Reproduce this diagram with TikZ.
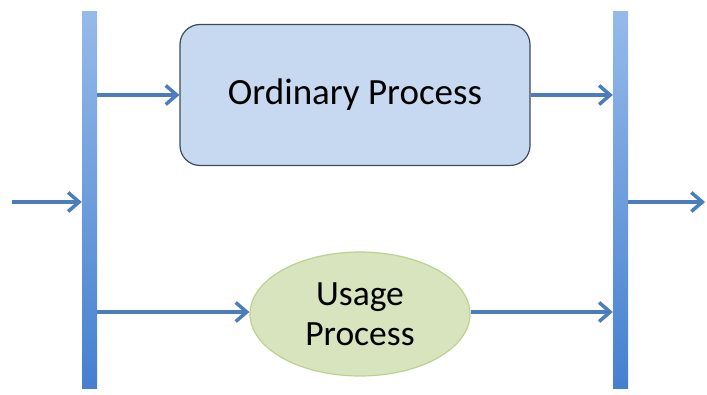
\documentclass[tikz,border=0pt]{standalone}
\usepackage{fontspec}
\setmainfont{Carlito}
\usetikzlibrary{arrows.meta,shapes.geometric}
\definecolor{arr}{HTML}{4A7EBB}
\definecolor{bartop}{HTML}{95BAEA}
\definecolor{barbot}{HTML}{4580CF}
\definecolor{boxfill}{HTML}{C6D9F1}
\definecolor{boxdraw}{HTML}{3F4A5A}
\definecolor{ellfill}{HTML}{D7E4BD}
\definecolor{elldraw}{HTML}{BDD190}
\tikzset{
  conn/.style={draw=arr, line width=3.5pt, -{Straight Barb[length=11pt,width=19pt,line width=3.5pt]}},
  bar/.style={top color=bartop, bottom color=barbot, draw=none, minimum width=15pt, minimum height=376pt, inner sep=0pt},
  procbox/.style={rectangle, rounded corners=20pt, fill=boxfill, draw=boxdraw, line width=1.2pt, minimum width=350pt, minimum height=141pt, font=\fontsize{37}{40}\selectfont},
  usebox/.style={ellipse, fill=ellfill, draw=elldraw, line width=1.2pt, minimum width=220pt, minimum height=124pt, inner sep=0pt, align=center, font=\fontsize{35.5}{40}\selectfont}
}
\begin{document}
\begin{tikzpicture}[x=1pt,y=1pt]
\useasboundingbox (0,0) rectangle (707,394);
\node[bar] (lb) at (89.5,194) {};
\node[bar] (rb) at (620.5,194) {};
\node[procbox] (op) at (355,299) {Ordinary Process};
\node[usebox] (up) at (360,80) {Usage\\Process};
\coordinate (in) at (12,192);
\coordinate (out) at (705,192);
\draw[conn] (lb.east |- 0,299) -- (op.west);
\draw[conn] (op.east) -- (rb.west |- 0,299);
\draw[conn] (in) -- (lb.west |- in);
\draw[conn] (rb.east |- out) -- (out);
\draw[conn] (lb.east |- 0,82) -- (up.west |- 0,82);
\draw[conn] (up.east |- 0,82) -- (rb.west |- 0,82);
\end{tikzpicture}
\end{document}
